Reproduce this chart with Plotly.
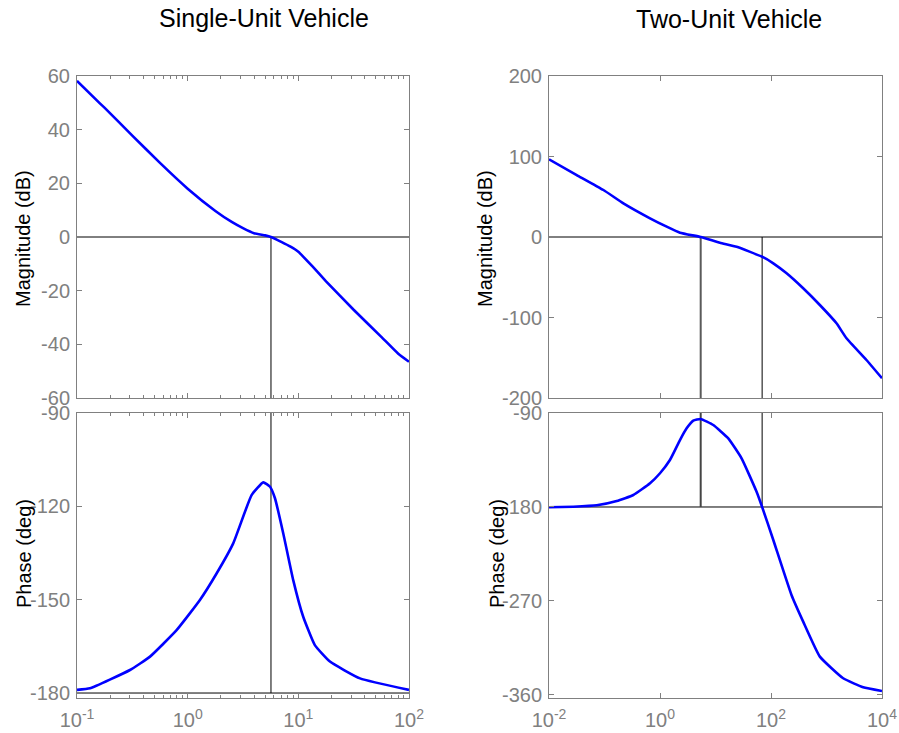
import plotly.graph_objects as go

# ---- Single-unit vehicle: open-loop frequency response ----
su_mag_w = [0.1, 0.161, 0.178, 0.316, 0.562, 1.0, 1.78, 2.5, 3.16, 3.98, 5.01, 5.66,
            7.08, 8.5, 10.0, 13.3, 17.8, 31.6, 56.2, 80.0, 100.0]
su_mag_db = [58.2, 49.8, 48.1, 37.8, 27.6, 18.0, 9.7, 5.6, 3.3, 1.4, 0.6, 0.0,
             -1.9, -3.6, -5.5, -10.8, -16.5, -27.1, -37.2, -43.5, -46.5]

su_ph_w = [0.1, 0.131, 0.301, 0.457, 0.794, 1.29, 1.83, 2.58, 3.78, 4.82, 5.55,
           6.15, 7.31, 8.99, 11.07, 14.1, 19.3, 36.1, 100.0]
su_ph_deg = [-179.0, -178.5, -172.6, -168.3, -159.8, -150.1, -141.5, -131.9, -116.4,
             -112.3, -113.7, -117.4, -128.7, -143.7, -155.5, -164.6, -169.9, -175.3, -179.0]

su_wc = 5.66  # gain crossover frequency

# ---- Two-unit vehicle: open-loop frequency response ----
tu_mag_w = [0.01, 0.0316, 0.0955, 0.219, 0.661, 1.32, 2.29, 5.41, 12.0, 24.0,
            69.2, 110.0, 191.0, 380.0, 759.0, 1514.0, 2291.0, 5248.0, 10000.0]
tu_mag_db = [96.5, 77.0, 58.4, 41.8, 23.2, 12.8, 5.3, 0.0, -7.1, -12.1,
             -24.5, -32.7, -45.1, -63.7, -84.5, -107.2, -125.8, -152.8, -175.5]

tu_ph_w = [0.01, 0.0275, 0.0724, 0.166, 0.331, 0.661, 1.0, 1.51, 2.29, 3.02, 3.98,
           5.41, 9.12, 17.0, 29.5, 55.0, 69.2, 110.0, 234.0, 380.0, 759.0, 1995.0,
           4571.0, 10000.0]
tu_ph_deg = [-180.3, -179.7, -178.4, -174.3, -168.5, -157.3, -147.7, -135.0, -115.9,
             -104.7, -97.3, -95.7, -101.5, -114.3, -133.4, -165.4, -180.0, -211.6,
             -264.3, -289.8, -323.3, -344.0, -352.6, -356.2]

tu_wc = 5.41    # gain crossover frequency
tu_w180 = 69.2  # phase crossover frequency

# ---- axis ticks ----
su_x_ticks = [0.1, 1, 10, 100]
su_x_text = ["10<sup>-1</sup>", "10<sup>0</sup>", "10<sup>1</sup>", "10<sup>2</sup>"]
su_x_minor = [k * d for d in (0.1, 1, 10) for k in range(2, 10)]
tu_x_ticks = [0.01, 1, 100, 10000]
tu_x_text = ["10<sup>-2</sup>", "10<sup>0</sup>", "10<sup>2</sup>", "10<sup>4</sup>"]

su_mag_ticks = [-60, -40, -20, 0, 20, 40, 60]
su_ph_ticks = [-180, -150, -120, -90]
tu_mag_ticks = [-200, -100, 0, 100, 200]
tu_ph_ticks = [-360, -270, -180, -90]

BLUE = "#0000ff"
FRAME = "#808080"
FONT = "Liberation Sans, Arial, sans-serif"

fig = go.Figure()


def curve(x, y, xa, ya):
    fig.add_trace(go.Scatter(x=x, y=y, mode="lines", xaxis=xa, yaxis=ya,
                             line=dict(color=BLUE, width=2.6, shape="spline", smoothing=0.4),
                             showlegend=False, hoverinfo="x+y"))


def ref(x, y, xa, ya, color="black", width=1):
    fig.add_trace(go.Scatter(x=x, y=y, mode="lines", xaxis=xa, yaxis=ya,
                             line=dict(color=color, width=width),
                             showlegend=False, hoverinfo="skip"))


# reference lines (0 dB, -180 deg, crossover markers)
ref([0.1, 100], [0, 0], "x", "y")
ref([su_wc, su_wc], [-60, 0], "x", "y")
ref([0.1, 100], [-180, -180], "x2", "y2")
ref([su_wc, su_wc], [-180, -90], "x2", "y2")

ref([0.01, 10000], [0, 0], "x3", "y3")
ref([tu_wc, tu_wc], [-200, 0], "x3", "y3", color="#5a5a5a", width=2)
ref([tu_w180, tu_w180], [-200, 0], "x3", "y3")
ref([0.01, 10000], [-180, -180], "x4", "y4")
ref([tu_wc, tu_wc], [-180, -90], "x4", "y4", color="#444444", width=2)
ref([tu_w180, tu_w180], [-180, -90], "x4", "y4")

curve(su_mag_w, su_mag_db, "x", "y")
curve(su_ph_w, su_ph_deg, "x2", "y2")
curve(tu_mag_w, tu_mag_db, "x3", "y3")
curve(tu_ph_w, tu_ph_deg, "x4", "y4")

dom_left = [77 / 899, 409 / 899]
dom_right = [549 / 899, 882 / 899]
dom_top = [(733 - 398) / 733, (733 - 76) / 733]
dom_bot = [(733 - 698) / 733, (733 - 413) / 733]

ytickfont = dict(family=FONT, size=20, color=FRAME)
xtickfont = dict(family=FONT, size=20, color=FRAME)

common = dict(showline=True, linecolor=FRAME, linewidth=1, mirror="ticks",
              ticks="inside", ticklen=5, tickcolor=FRAME, tickwidth=1,
              showgrid=False, zeroline=False, fixedrange=True,
              automargin=False)
xcommon = dict(common, tickfont=xtickfont, ticklabelstandoff=4)
ycommon = dict(common, tickfont=ytickfont, ticklabelstandoff=2)

su_minor = dict(tickmode="array", tickvals=su_x_minor, ticks="inside", ticklen=3,
                tickcolor=FRAME, tickwidth=1, showgrid=False)


def labels(vals):
    return [str(v) for v in vals]


fig.update_layout(
    width=899, height=733,
    margin=dict(l=0, r=0, t=0, b=0, pad=0),
    paper_bgcolor="white", plot_bgcolor="white",
    font=dict(family=FONT, color="black"),
    xaxis=dict(domain=dom_left, anchor="y", type="log", range=[-1, 2],
               tickmode="array", tickvals=su_x_ticks, ticktext=su_x_text,
               showticklabels=False, minor=su_minor, **xcommon),
    yaxis=dict(domain=dom_top, anchor="x", range=[-60, 60],
               tickmode="array", tickvals=su_mag_ticks, ticktext=labels(su_mag_ticks),
               **ycommon),
    xaxis2=dict(domain=dom_left, anchor="y2", type="log", range=[-1, 2],
                tickmode="array", tickvals=su_x_ticks, ticktext=su_x_text,
                minor=su_minor, **xcommon),
    yaxis2=dict(domain=dom_bot, anchor="x2", range=[-181.6, -90],
                tickmode="array", tickvals=su_ph_ticks, ticktext=labels(su_ph_ticks),
                **ycommon),
    xaxis3=dict(domain=dom_right, anchor="y3", type="log", range=[-2, 4],
                tickmode="array", tickvals=tu_x_ticks, ticktext=tu_x_text,
                showticklabels=False, **xcommon),
    yaxis3=dict(domain=dom_top, anchor="x3", range=[-200, 200],
                tickmode="array", tickvals=tu_mag_ticks, ticktext=labels(tu_mag_ticks),
                **ycommon),
    xaxis4=dict(domain=dom_right, anchor="y4", type="log", range=[-2, 4],
                tickmode="array", tickvals=tu_x_ticks, ticktext=tu_x_text, **xcommon),
    yaxis4=dict(domain=dom_bot, anchor="x4", range=[-362.9, -90],
                tickmode="array", tickvals=tu_ph_ticks, ticktext=labels(tu_ph_ticks),
                **ycommon),
)

# panel titles and axis labels
titles = [
    ("Single-Unit Vehicle", 264 / 899, (733 - 18) / 733),
    ("Two-Unit Vehicle", 729 / 899, (733 - 19) / 733),
]
for text, x, y in titles:
    fig.add_annotation(text=text, x=x, y=y, xref="paper", yref="paper",
                       xanchor="center", yanchor="middle", showarrow=False,
                       font=dict(family=FONT, size=25, color="black"))

ylabels = [
    ("Magnitude (dB)", 23 / 899, (733 - 239) / 733),
    ("Magnitude (dB)", 485 / 899, (733 - 239) / 733),
    ("Phase (deg)", 24 / 899, (733 - 554) / 733),
    ("Phase (deg)", 497 / 899, (733 - 554) / 733),
]
for text, x, y in ylabels:
    fig.add_annotation(text=text, x=x, y=y, xref="paper", yref="paper",
                       xanchor="center", yanchor="middle", showarrow=False,
                       textangle=-90,
                       font=dict(family=FONT, size=20, color="black"))

fig.write_html("out.html")
